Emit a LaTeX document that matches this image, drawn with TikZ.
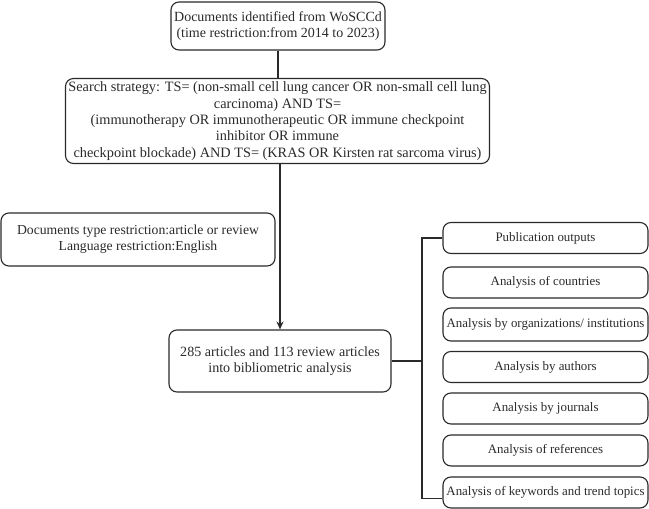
\documentclass[tikz,border=0pt]{standalone}
\usepackage{fontspec}
\setmainfont{Liberation Serif}
\usetikzlibrary{arrows.meta}
\definecolor{ink}{HTML}{2A2A2A}
\tikzset{
  box/.style={draw=ink, line width=1.1pt, rounded corners=8pt, align=center, inner sep=1pt,
    text=ink, font=\fontsize{14}{15.5}\selectfont},
  rbox/.style={box, minimum width=205pt, minimum height=31pt, font=\fontsize{12.9}{14}\selectfont},
  conn/.style={draw=ink, line width=1.1pt}
}
\begin{document}
\begin{tikzpicture}[x=1pt,y=-1pt]
\useasboundingbox (0,0) rectangle (649,509);
\node[box, minimum width=214pt, minimum height=48pt] (b1) at (278,26)
  {Documents identified from WoSCCd\\(time restriction:from 2014 to 2023)};
\node[box, minimum width=424pt, minimum height=85pt, font=\fontsize{14.3}{16.3}\selectfont] (b2) at (277.5,121)
  {Search strategy: TS= (non-small cell lung cancer OR non-small cell lung\\
   carcinoma) AND TS=\\
   (immunotherapy OR immunotherapeutic OR immune checkpoint\\
   inhibitor OR immune\\
   checkpoint blockade) AND TS= (KRAS OR Kirsten rat sarcoma virus)};
\node[box, minimum width=274pt, minimum height=53pt, font=\fontsize{13.7}{16}\selectfont] (bd) at (138,239.5)
  {Documents type restriction:article or review\\Language restriction:English};
\node[box, minimum width=222pt, minimum height=62pt, font=\fontsize{14.1}{16.5}\selectfont] (b3) at (280,361)
  {285 articles and 113 review articles\\into bibliometric analysis};
\node[rbox] (r1) at (545.5,238) {Publication outputs};
\node[rbox] (r2) at (545.5,282.5) {Analysis of countries};
\node[rbox, minimum height=33pt] (r3) at (545.5,324.5) {Analysis by organizations/ institutions};
\node[rbox] (r4) at (545.5,367) {Analysis by authors};
\node[rbox] (r5) at (545.5,408.5) {Analysis by journals};
\node[rbox] (r6) at (545.5,450.5) {Analysis of references};
\node[rbox] (r7) at (545.5,492.5) {Analysis of keywords and trend topics};
\coordinate (bt) at (422,239);
\draw[conn] (b1.south) -- (b1.south |- b2.north);
\draw[conn, -{Stealth[length=8pt,width=7pt]}] (b2.south -| b3.north) -- (b3.north);
\draw[conn] (b3.east) -- (b3.east -| bt);
\draw[conn] (r1.west) -- (r1.west -| bt) -- ([yshift=-6pt]r7.west -| bt) -- ([yshift=-6pt]r7.west);
\end{tikzpicture}
\end{document}
